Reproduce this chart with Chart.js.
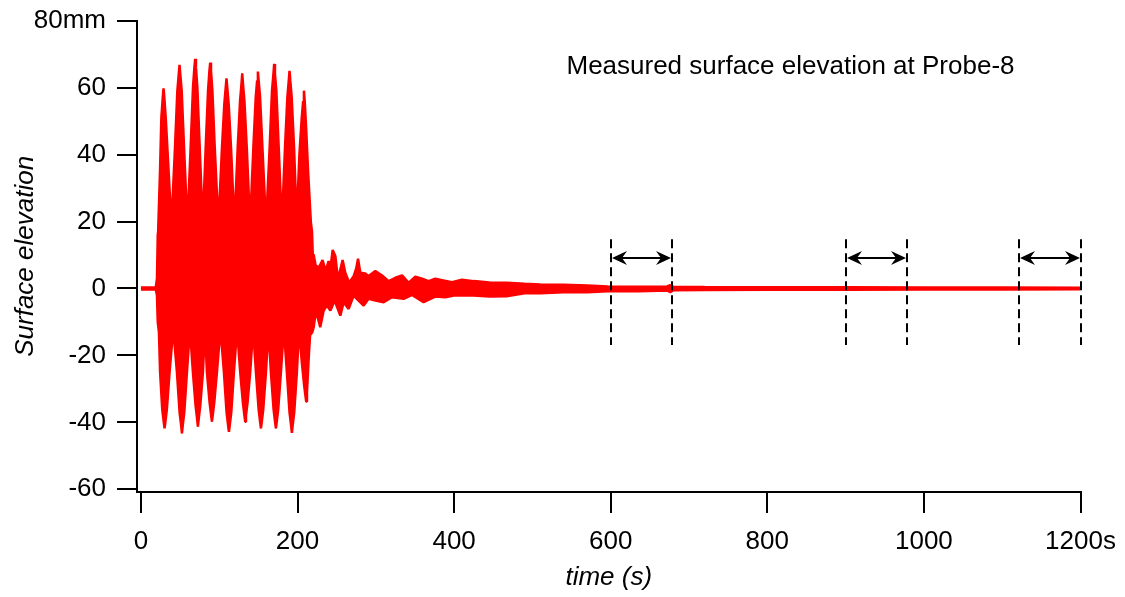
<!DOCTYPE html>
<html>
<head>
<meta charset="utf-8">
<script src="https://cdn.jsdelivr.net/npm/chart.js@4"></script>
<style>
  html, body { margin:0; padding:0; background:#fff; }
  #wrap { width:1125px; height:597px; position:relative; }
</style>
</head>
<body>
<div id="wrap"><canvas id="grafica"></canvas></div>
<script>
// envolvente superior e inferior de la señal medida [tiempo s, elevación mm]
const envSuperior = [
  [0,0.3],[19,0.3],[20.5,3],[21.5,16],[22,17],
  [24.5,36],[26.1,51],[27.9,57],[28.9,59.8],[29.9,57],[31.7,51],[34.7,38],[39,19],
  [43.5,42],[46.5,59],[48.3,64],[49.3,66.8],[50.3,64],[52.1,59],[55.1,42],[59.3,19],
  [63.5,42],[66.5,60],[68.3,66],[69.3,68.6],[70.3,66],[72.1,60],[75.1,42],[79,19],
  [82.7,42],[85.7,59],[87.5,65],[88.5,67.5],[89.5,65],[91.3,59],[94.3,42],[99,19],
  [103.5,42],[106.5,55],[108.3,60],[109.3,62.8],[110.3,60],[112.1,55],[115.1,42],[119.4,19],
  [123.6,42],[126.6,56],[128.4,61],[129.4,64.3],[130.4,61],[132.2,56],[135.2,42],[139.4,19],
  [143.6,42],[146.6,57],[148.4,62],[149.4,64.8],[150.4,62],[152.2,57],[155.2,42],[159.8,19],
  [164.4,42],[167.4,59],[169.2,64],[170.2,67.1],[171.2,64],[173,59],[176,42],[180,19],
  [184,42],[187,57],[188.8,62],[189.8,65],[190.8,62],[192.6,57],[195.6,42],[199,20],
  [202.4,40],[205.4,51],[207.2,56],[208.2,59.1],[209.2,56],[211,48],[213.5,35],[217,20],[218.5,17],
  [219.5,10],[220.6,10.2],[223,7],[227,6.2],[232,8.5],[235,6],[237.6,6.5],[239.7,8.2],[242,6],
  [244.9,11.5],[248.3,9.7],[251.7,2.7],[254,5],[257.6,8.5],[261,4.7],[266,1.7],[271.7,3.7],[275,6],
  [277.3,8.9],[280.2,4.7],[286.6,4.5],[290.8,3.7],[299.4,5.2],[308,3.9],[316.4,2.2],[325,3.2],
  [333.5,3.9],[342,1.7],[350.5,3.5],[359,2.9],[367.5,2.2],[376,2.9],[384.6,2.5],[397.4,1.9],
  [410,2.6],[425,2.2],[445,1.8],[467,1.7],[490,1.4],[510,1.2],[540,1.1],[570,0.9],[596,0.6],
  [636,0.5],[672,0.6],[676,1.0],[680,0.5],[720,0.45],[800,0.4],[900,0.35],[1000,0.3],[1100,0.3],[1200,0.25]
];
const envInferior = [
  [0,-0.3],[19,-0.3],[20.5,-2],[21.5,-10],[23,-13],
  [24.5,-25],[27.2,-36],[29.2,-40],[30.2,-41.8],[31.2,-40],[33.2,-36],[36.6,-25],[41.3,-12],
  [46,-25],[49.4,-37],[51.4,-41],[52.4,-43.3],[53.4,-41],[55.4,-37],[58.8,-25],[62.6,-12],
  [66.4,-25],[69.8,-35],[71.8,-39],[72.8,-41.3],[73.8,-39],[75.8,-35],[79.2,-25],[81.8,-12],
  [84.3,-25],[87.7,-34],[89.7,-38],[90.7,-39.8],[91.7,-38],[93.7,-34],[97.1,-25],[101.6,-12],
  [106,-25],[109.4,-37],[111.4,-41],[112.4,-42.8],[113.4,-41],[115.4,-37],[118.8,-25],[122.8,-12],
  [126.8,-25],[130.2,-34],[132.2,-38],[133.2,-39.8],[134.2,-38],[136.2,-34],[139.6,-25],[143.3,-12],
  [146.9,-25],[150.3,-36],[152.3,-40],[153.3,-41.8],[154.3,-40],[156.3,-36],[159.7,-25],[162.9,-12],
  [166,-25],[169.4,-36],[171.4,-40],[172.4,-41.8],[173.4,-40],[175.4,-36],[178.8,-25],[182.6,-12],
  [186.4,-25],[189.8,-37],[191.8,-41],[192.8,-43.1],[193.8,-41],[195.8,-37],[199.2,-25],[202,-12],
  [205.5,-22],[208.5,-29],[210.1,-32],[211.1,-33.8],[212.1,-31],[214,-22],[216,-14],[219,-13],
  [220.6,-11.6],[223.6,-6.6],[229,-11.6],[233.4,-6.6],[237.6,-5.1],[242,-6.6],[247.4,-3.6],
  [254.7,-8.1],[258.9,-4.1],[265.3,-6.1],[271.7,-2.1],[278,-3.6],[284.5,-5.1],[290.8,-3.1],
  [299.4,-3.6],[310,-4.1],[320.7,-2.6],[335.6,-3.1],[346.3,-1.9],[361,-4.1],[376,-2.4],[388.8,-2.6],
  [399.4,-2.1],[425,-2.1],[445,-2.4],[467,-2.3],[490,-1.4],[510,-1.4],[540,-1.1],[570,-1.1],[596,-0.8],
  [636,-0.8],[672,-0.6],[676,-1.1],[680,-0.5],[720,-0.45],[800,-0.4],[900,-0.35],[1000,-0.3],[1100,-0.3],[1200,-0.25]
];

// ventanas de análisis (s) y marcas
const ventanas = [[600,678],[900,978],[1122,1200]];
const guiaArriba = 14.7, guiaAbajo = -16.9, nivelFlecha = 9;
const ticksX = [0,200,400,600,800,1000,1200];
const ticksY = [-60,-40,-20,0,20,40,60,80];
const titulo = 'Measured surface elevation at Probe-8';

const FUENTE = '"Liberation Sans", Arial, Helvetica, sans-serif';
Chart.defaults.font.family = FUENTE;
Chart.defaults.font.size = 26;
Chart.defaults.color = '#000';

function punta(ctx, px, py, dir) {
  ctx.beginPath();
  ctx.moveTo(px, py);
  ctx.lineTo(px + dir*15, py - 7);
  ctx.lineTo(px + dir*10, py);
  ctx.lineTo(px + dir*15, py + 7);
  ctx.closePath();
  ctx.fill();
}

const marcas = {
  id: 'marcas',
  afterDatasetsDraw(chart) {
    const {ctx, scales:{x, y}} = chart;
    ctx.save();
    ctx.strokeStyle = '#000'; ctx.fillStyle = '#000';
    ctx.lineWidth = 2;
    ctx.setLineDash([9,5]);
    const yTop = y.getPixelForValue(guiaArriba), yBot = y.getPixelForValue(guiaAbajo);
    ventanas.forEach(v => v.forEach(t => {
      const px = Math.round(x.getPixelForValue(t));
      ctx.beginPath(); ctx.moveTo(px, yTop); ctx.lineTo(px, yBot); ctx.stroke();
    }));
    ctx.setLineDash([]);
    const ya = Math.round(y.getPixelForValue(nivelFlecha));
    ventanas.forEach(([a,b]) => {
      const x1 = Math.round(x.getPixelForValue(a)) + 1, x2 = Math.round(x.getPixelForValue(b)) - 1;
      ctx.beginPath(); ctx.moveTo(x1 + 8, ya); ctx.lineTo(x2 - 8, ya); ctx.stroke();
      punta(ctx, x1, ya, 1); punta(ctx, x2, ya, -1);
    });
    ctx.font = '26px ' + FUENTE;
    ctx.textBaseline = 'alphabetic';
    ctx.textAlign = 'left';
    ctx.fillText(titulo, x.getPixelForValue(543.5), y.getPixelForValue(64.1));
    ctx.restore();
  }
};

const rojo = 'rgb(255,0,0)';
new Chart(document.getElementById('grafica').getContext('2d'), {
  type: 'line',
  data: {
    datasets: [
      { data: envSuperior.map(([x,y]) => ({x,y})), borderColor: rojo, backgroundColor: rojo,
        borderWidth: 2.5, borderJoinStyle: 'bevel', pointRadius: 0, tension: 0, fill: '+1' },
      { data: envInferior.map(([x,y]) => ({x,y})), borderColor: rojo, backgroundColor: rojo,
        borderWidth: 2.5, borderJoinStyle: 'bevel', pointRadius: 0, tension: 0, fill: false }
    ]
  },
  options: {
    responsive: true, maintainAspectRatio: false, animation: false,
    layout: { padding: { top: 20.7, right: 44.5, left: 0, bottom: 0 } },
    plugins: { legend: { display: false }, tooltip: { enabled: false } },
    scales: {
      x: {
        type: 'linear', min: -5, max: 1200,
        afterFit: s => { s.height = 105; s.paddingLeft = 0; s.paddingRight = 0; },
        afterBuildTicks: s => { s.ticks = ticksX.map(v => ({value: v})); },
        ticks: { padding: 13, maxRotation: 0, autoSkip: false, callback: v => v === 1200 ? '1200s' : v },
        grid: { drawOnChartArea: false, tickLength: 21, color: '#000', lineWidth: 2 },
        border: { color: '#000', width: 2 },
        title: { display: true, text: 'time (s)', font: { size: 26, style: 'italic' }, padding: { bottom: 4 } }
      },
      y: {
        min: -60.8, max: 80,
        afterFit: s => { s.width = 137; s.paddingTop = 0; s.paddingBottom = 0; },
        afterBuildTicks: s => { s.ticks = ticksY.map(v => ({value: v})); },
        ticks: { padding: 11, callback: v => v === 80 ? '80mm' : v },
        grid: { drawOnChartArea: false, tickLength: 20, color: '#000', lineWidth: 2 },
        border: { color: '#000', width: 2 },
        title: { display: true, text: 'Surface elevation', font: { size: 26, style: 'italic' }, padding: { top: 10 } }
      }
    }
  },
  plugins: [marcas]
});
</script>
</body>
</html>
